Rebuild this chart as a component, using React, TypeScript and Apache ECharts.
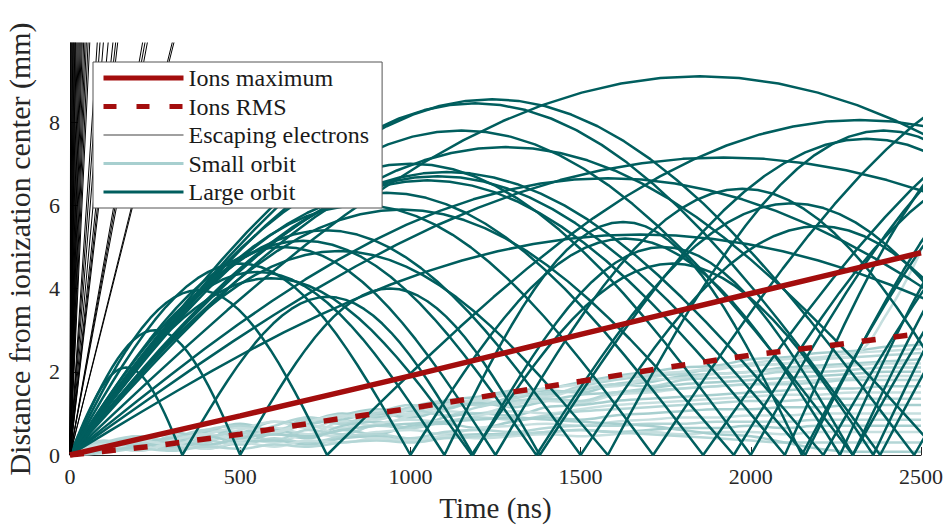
import { useEffect, useRef } from "react";
import * as echarts from "echarts";

const FONT = "Liberation Serif, DejaVu Serif, serif";
const X_TICKS = [0, 500, 1000, 1500, 2000, 2500];
const Y_TICKS = [0, 2, 4, 6, 8];
const LEGEND_NAMES = ["Ions maximum", "Ions RMS", "Escaping electrons", "Small orbit", "Large orbit"];

// Ions
const IONS_T = [0, 250, 500, 750, 1000, 1250, 1500, 1750, 2000, 2250, 2500];
const IONS_MAX = [0, 0.47, 0.94, 1.42, 1.9, 2.4, 2.9, 3.39, 3.88, 4.37, 4.86];
const IONS_RMS = [0, 0.22, 0.5, 0.82, 1.12, 1.45, 1.77, 2.1, 2.4, 2.65, 2.92];

// Escaping electrons: time (ns) at which each line leaves the top of the plot
const ESCAPE_EXIT_T = [2, 4, 6, 8, 10, 12, 14, 16, 18, 21, 24, 27, 30, 33, 36, 40, 44, 48, 53, 58, 80, 88, 98, 112, 126, 134, 140, 213, 220, 227, 300, 305];

// Small orbits: distance sampled every 100 ns
const SMALL_T = [0, 100, 200, 300, 400, 500, 600, 700, 800, 900, 1000, 1100, 1200, 1300, 1400, 1500, 1600, 1700, 1800, 1900, 2000, 2100, 2200, 2300, 2400, 2500];
const SMALL_ORBITS = [
  [0, 0.25, 0.4, 0.35, 0.6, 0.55, 0.8, 0.75, 0.95, 1.1, 1.05, 1.3, 1.4, 1.55, 1.6, 1.75, 1.9, 2.0, 2.1, 2.15, 2.3, 2.35, 2.45, 2.5, 2.6, 2.65],
  [0, 0.15, 0.35, 0.2, 0.5, 0.4, 0.6, 0.7, 0.65, 0.9, 1.0, 1.15, 1.3, 1.25, 1.45, 1.6, 1.7, 1.85, 2.0, 2.05, 2.2, 2.3, 2.35, 2.45, 2.5, 2.55],
  [0, 0.3, 0.15, 0.45, 0.3, 0.7, 0.5, 0.85, 0.75, 1.0, 1.2, 1.1, 1.35, 1.5, 1.45, 1.65, 1.8, 1.9, 1.95, 2.1, 2.15, 2.2, 2.3, 2.35, 2.4, 2.45],
  [0, 0.2, 0.45, 0.3, 0.55, 0.75, 0.6, 0.8, 1.0, 0.9, 1.1, 1.25, 1.2, 1.4, 1.55, 1.5, 1.7, 1.75, 1.9, 1.95, 2.0, 2.1, 2.15, 2.2, 2.25, 2.3],
  [0, 0.1, 0.3, 0.5, 0.35, 0.6, 0.8, 0.65, 0.9, 1.05, 0.95, 1.2, 1.3, 1.45, 1.4, 1.6, 1.65, 1.8, 1.85, 1.95, 2.0, 2.05, 2.1, 2.15, 2.2, 2.2],
  [0, 0.35, 0.2, 0.4, 0.6, 0.45, 0.7, 0.9, 0.8, 0.95, 1.15, 1.3, 1.2, 1.35, 1.5, 1.55, 1.7, 1.65, 1.8, 1.85, 1.9, 2.0, 2.0, 2.05, 2.1, 2.1],
  [0, 0.2, 0.3, 0.55, 0.4, 0.7, 0.55, 0.75, 0.85, 1.0, 0.9, 1.1, 1.25, 1.15, 1.3, 1.45, 1.5, 1.6, 1.7, 1.75, 1.8, 1.85, 1.9, 1.95, 2.0, 2.0],
  [0, 0.15, 0.4, 0.25, 0.5, 0.35, 0.65, 0.5, 0.8, 0.7, 0.95, 1.05, 1.0, 1.2, 1.3, 1.25, 1.45, 1.5, 1.6, 1.65, 1.7, 1.75, 1.8, 1.85, 1.9, 1.9],
  [0, 0.3, 0.45, 0.3, 0.6, 0.7, 0.55, 0.9, 0.75, 1.0, 1.1, 0.95, 1.15, 1.3, 1.35, 1.3, 1.5, 1.55, 1.6, 1.65, 1.7, 1.7, 1.75, 1.8, 1.8, 1.8],
  [0, 0.1, 0.25, 0.4, 0.2, 0.5, 0.6, 0.45, 0.7, 0.8, 0.65, 0.9, 1.0, 0.95, 1.15, 1.2, 1.3, 1.35, 1.4, 1.45, 1.5, 1.55, 1.6, 1.6, 1.65, 1.65],
  [0, 0.25, 0.1, 0.35, 0.5, 0.3, 0.55, 0.7, 0.5, 0.75, 0.85, 0.8, 0.95, 1.05, 1.0, 1.1, 1.2, 1.25, 1.3, 1.35, 1.4, 1.45, 1.45, 1.5, 1.5, 1.5],
  [0, 0.2, 0.35, 0.15, 0.4, 0.55, 0.35, 0.6, 0.5, 0.7, 0.65, 0.8, 0.9, 0.85, 0.95, 1.05, 1.1, 1.15, 1.2, 1.25, 1.3, 1.3, 1.35, 1.35, 1.35, 1.35],
  [0, 0.1, 0.3, 0.2, 0.45, 0.3, 0.5, 0.4, 0.6, 0.5, 0.7, 0.75, 0.65, 0.8, 0.9, 0.85, 0.95, 1.0, 1.05, 1.1, 1.1, 1.15, 1.15, 1.2, 1.2, 1.2],
  [0, 0.25, 0.15, 0.3, 0.2, 0.4, 0.3, 0.5, 0.45, 0.55, 0.6, 0.5, 0.65, 0.7, 0.75, 0.7, 0.8, 0.85, 0.9, 0.9, 0.95, 0.95, 1.0, 1.0, 1.0, 1.0],
  [0, 0.15, 0.3, 0.1, 0.35, 0.25, 0.4, 0.3, 0.45, 0.5, 0.4, 0.55, 0.6, 0.55, 0.65, 0.7, 0.7, 0.75, 0.75, 0.8, 0.8, 0.8, 0.85, 0.85, 0.85, 0.85],
  [0, 0.1, 0.2, 0.3, 0.15, 0.3, 0.35, 0.25, 0.4, 0.45, 0.35, 0.45, 0.5, 0.5, 0.55, 0.6, 0.55, 0.6, 0.65, 0.65, 0.7, 0.65, 0.7, 0.7, 0.7, 0.7],
  [0, 0.2, 0.1, 0.25, 0.15, 0.3, 0.2, 0.35, 0.3, 0.4, 0.35, 0.45, 0.4, 0.45, 0.5, 0.45, 0.5, 0.55, 0.5, 0.55, 0.55, 0.5, 0.55, 0.55, 0.55, 0.55],
  [0, 0.05, 0.15, 0.1, 0.2, 0.15, 0.25, 0.2, 0.3, 0.35, 0.3, 0.4, 0.45, 0.5, 0.55, 0.6, 0.55, 0.5, 0.45, 0.4, 0.35, 0.3, 0.3, 0.3, 0.3, 0.3],
  [0, 0.1, 0.2, 0.3, 0.25, 0.4, 0.5, 0.45, 0.6, 0.7, 0.75, 0.8, 0.85, 0.9, 0.85, 0.8, 0.75, 0.7, 0.6, 0.5, 0.45, 0.3, 0.15, 0.08, 0.08, 0.08],
  [0, 0.2, 0.35, 0.25, 0.5, 0.65, 0.55, 0.8, 0.95, 0.85, 1.1, 1.2, 1.35, 1.45, 1.6, 1.7, 1.85, 1.95, 2.0, 2.1, 2.15, 2.2, 2.3, 2.4, 3.4, 4.9],
];

// Large orbits: times (ns) where the electron returns near the centre, and height (mm) of each arch between them
const LARGE_BOUNCE_T = [
  [0, 3700],
  [0, 2480, 4200],
  [0, 2380, 4000],
  [0, 2560],
  [0, 3840],
  [0, 2213, 3900],
  [0, 2160, 3700],
  [0, 2100, 3500],
  [0, 1860, 4300],
  [0, 1713, 4150],
  [0, 1500, 2900],
  [0, 1370, 2870],
  [0, 1580, 3200],
  [0, 1180, 2360, 3800],
  [0, 755, 3885],
  [0, 1000, 2262, 3600],
  [0, 500, 1380, 3300],
  [0, 330, 1184, 2300, 3600],
  [0, 3160],
  [0, 3350],
  [0, 2000, 3800],
  [0, 2300, 4000],
  [0, 1950, 3600],
  [0, 1250, 2700],
  [0, 1100, 2150, 3700],
];
const LARGE_ARCH_H = [
  [9.1],
  [8.55, 7.8],
  [8.45, 8.0],
  [7.4],
  [7.15],
  [6.8, 7.6],
  [6.7, 8.0],
  [6.6, 8.2],
  [6.3, 9.0],
  [6.0, 9.5],
  [5.4, 5.5],
  [5.15, 6.05],
  [4.9, 7.8],
  [4.25, 4.6, 7.9],
  [3.96, 8.05],
  [4.6, 5.2, 7.6],
  [3.0, 4.0, 7.6],
  [2.1, 3.8, 5.0, 7.2],
  [6.65],
  [5.3],
  [7.0, 8.3],
  [7.8, 7.9],
  [5.9, 7.0],
  [5.0, 6.4],
  [4.4, 5.6, 7.6],
];
// Normalised shape of one arch (template, 33 samples)
const ARCH_PROFILE = [
  0, 0.098, 0.1951, 0.2903, 0.3827, 0.4714, 0.5556, 0.6344, 0.7071, 0.773, 0.8315, 0.8819, 0.9239, 0.9569, 0.9808, 0.9952, 1,
  0.9952, 0.9808, 0.9569, 0.9239, 0.8819, 0.8315, 0.773, 0.7071, 0.6344, 0.5556, 0.4714, 0.3827, 0.2903, 0.1951, 0.098, 0,
];

const RED = "#a30d0d";
const DARK_TEAL = "#005e5e";
const LIGHT_TEALS = ["#a7cfcf", "#c6dfdf", "#b4d6d6"];

function buildLarge(bounces: number[], heights: number[]) {
  const pts: number[][] = [];
  const n = ARCH_PROFILE.length - 1;
  for (let i = 0; i < heights.length; i++) {
    const a = bounces[i];
    const b = bounces[i + 1];
    if (a > 2500) break;
    for (let k = i === 0 ? 0 : 1; k <= n; k++) {
      pts.push([a + ((b - a) * k) / n, heights[i] * ARCH_PROFILE[k]]);
    }
  }
  return pts;
}

export default function App() {
  const ref = useRef<HTMLDivElement>(null);
  useEffect(() => {
    document.body.style.margin = "0";
    if (!ref.current) return;
    const chart = echarts.init(ref.current, undefined, { renderer: "svg" });
    const series: any[] = [];

    SMALL_ORBITS.forEach((vals, i) => {
      series.push({
        name: "Small orbit",
        type: "line",
        data: SMALL_T.map((t, j) => [t, vals[j]]),
        symbol: "none",
        smooth: 0.4,
        lineStyle: { color: LIGHT_TEALS[i % 3], width: 2.5 },
        itemStyle: { color: LIGHT_TEALS[0] },
        z: 2,
        silent: true,
      });
    });

    LARGE_BOUNCE_T.forEach((b, i) => {
      series.push({
        name: "Large orbit",
        type: "line",
        data: buildLarge(b, LARGE_ARCH_H[i]),
        symbol: "none",
        lineStyle: { color: DARK_TEAL, width: 2.5 },
        itemStyle: { color: DARK_TEAL },
        z: 3,
        silent: true,
      });
    });

    ESCAPE_EXIT_T.forEach((t) => {
      series.push({
        name: "Escaping electrons",
        type: "line",
        data: [
          [0, 0],
          [(t * 10.5) / 9.9, 10.5],
        ],
        symbol: "none",
        lineStyle: { color: "#000", width: 1 },
        itemStyle: { color: "#000" },
        z: 4,
        silent: true,
      });
    });

    series.push({
      name: "Ions maximum",
      type: "line",
      data: IONS_T.map((t, j) => [t, IONS_MAX[j]]),
      symbol: "none",
      lineStyle: { color: RED, width: 5.5 },
      itemStyle: { color: RED },
      z: 6,
      silent: true,
    });
    series.push({
      name: "Ions RMS",
      type: "line",
      data: IONS_T.map((t, j) => [t, IONS_RMS[j]]),
      symbol: "none",
      lineStyle: { color: RED, width: 5.5, type: [14, 18] },
      itemStyle: { color: RED },
      z: 6,
      silent: true,
    });

    const legendLine: Record<string, any> = {
      "Ions maximum": { color: RED, width: 5, type: "solid" },
      "Ions RMS": { color: RED, width: 5, type: [13, 20] },
      "Escaping electrons": { color: "#808080", width: 1.5, type: "solid" },
      "Small orbit": { color: "#a7cfcf", width: 3, type: "solid" },
      "Large orbit": { color: DARK_TEAL, width: 3, type: "solid" },
    };

    chart.setOption({
      animation: false,
      textStyle: { fontFamily: FONT },
      grid: { left: 70, right: 27, top: 43, bottom: 71, containLabel: false, outerBoundsMode: "none" },
      legend: {
        orient: "vertical",
        left: 93,
        top: 62,
        itemWidth: 80,
        itemHeight: 14,
        itemGap: 4.5,
        padding: [4, 13, 4, 8],
        backgroundColor: "#ffffff",
        borderColor: "#555555",
        borderWidth: 1,
        selectedMode: false,
        itemStyle: { opacity: 0 },
        textStyle: { fontFamily: FONT, fontSize: 24, color: "#1a1a1a" },
        data: LEGEND_NAMES.map((n) => ({ name: n, lineStyle: legendLine[n], itemStyle: { opacity: 0 } })),
        z: 20,
      },
      xAxis: {
        type: "value",
        min: 0,
        max: 2500,
        interval: 500,
        name: "Time (ns)",
        nameLocation: "middle",
        nameGap: 38,
        nameTextStyle: { fontFamily: FONT, fontSize: 29, color: "#262626" },
        axisLine: { show: true, onZero: false, lineStyle: { color: "#262626", width: 1 } },
        axisTick: { show: true, inside: true, length: 8, customValues: X_TICKS, lineStyle: { color: "#262626" } },
        axisLabel: {
          fontFamily: FONT,
          fontSize: 22,
          color: "#262626",
          margin: 10,
          customValues: X_TICKS,
          formatter: (v: number) => String(v),
        },
        splitLine: { show: false },
      },
      yAxis: {
        type: "value",
        min: 0,
        max: 9.9,
        interval: 2,
        name: "Distance from ionization center (mm)",
        nameLocation: "middle",
        nameGap: 36,
        nameTextStyle: { fontFamily: FONT, fontSize: 30, color: "#262626" },
        axisLine: { show: true, onZero: false, lineStyle: { color: "#262626", width: 1 } },
        axisTick: { show: true, inside: true, length: 8, customValues: Y_TICKS, lineStyle: { color: "#262626" } },
        axisLabel: {
          fontFamily: FONT,
          fontSize: 22,
          color: "#262626",
          margin: 10,
          customValues: Y_TICKS,
          formatter: (v: number) => String(v),
        },
        splitLine: { show: false },
      },
      series,
    });
    return () => chart.dispose();
  }, []);
  return <div ref={ref} style={{ width: 948, height: 526 }} />;
}
